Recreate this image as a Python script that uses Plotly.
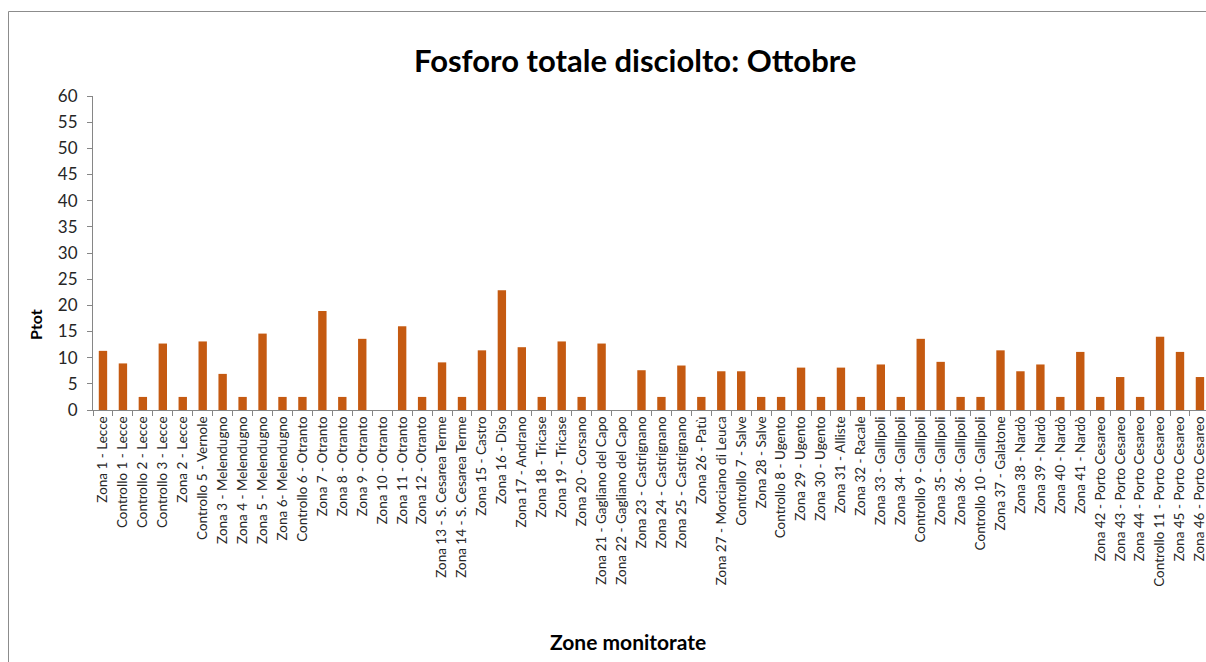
import plotly.graph_objects as go

# Monitoring zones along the Salento coast
zones = [
    "Zona 1 - Lecce", "Controllo 1 - Lecce", "Controllo 2 - Lecce", "Controllo 3 - Lecce",
    "Zona 2 - Lecce", "Controllo 5 - Vernole", "Zona 3 - Melendugno", "Zona 4 - Melendugno",
    "Zona 5 - Melendugno", "Zona 6- Melendugno", "Controllo 6 - Otranto", "Zona 7 - Otranto",
    "Zona 8 - Otranto", "Zona 9 - Otranto", "Zona 10 - Otranto", "Zona 11 - Otranto",
    "Zona 12 - Otranto", "Zona 13 - S. Cesarea Terme", "Zona 14 - S. Cesarea Terme",
    "Zona 15 - Castro", "Zona 16 - Diso", "Zona 17 - Andrano", "Zona 18 - Tricase",
    "Zona 19 - Tricase", "Zona 20 - Corsano", "Zona 21 - Gagliano del Capo",
    "Zona 22 - Gagliano del Capo", "Zona 23 - Castrignano", "Zona 24 - Castrignano",
    "Zona 25 - Castrignano", "Zona 26 - Patù", "Zona 27 - Morciano di Leuca",
    "Controllo 7 - Salve", "Zona 28 - Salve", "Controllo 8 - Ugento", "Zona 29 - Ugento",
    "Zona 30 - Ugento", "Zona 31 - Alliste", "Zona 32 - Racale", "Zona 33 - Gallipoli",
    "Zona 34 - Gallipoli", "Controllo 9 - Gallipoli", "Zona 35 - Gallipoli",
    "Zona 36 - Gallipoli", "Controllo 10 - Gallipoli", "Zona 37 - Galatone",
    "Zona 38 - Nardò", "Zona 39 - Nardò", "Zona 40 - Nardò", "Zona 41 - Nardò",
    "Zona 42 - Porto Cesareo", "Zona 43 - Porto Cesareo", "Zona 44 - Porto Cesareo",
    "Controllo 11 - Porto Cesareo", "Zona 45 - Porto Cesareo", "Zona 46 - Porto Cesareo",
]

# Total dissolved phosphorus (Ptot), October
ptot = [
    11.3, 8.9, 2.5, 12.7, 2.5, 13.1, 6.9, 2.5, 14.6, 2.5, 2.5, 18.9, 2.5, 13.6, 0, 16.0,
    2.5, 9.1, 2.5, 11.4, 22.9, 12.0, 2.5, 13.1, 2.5, 12.7, 0, 7.6, 2.5, 8.5, 2.5, 7.4,
    7.4, 2.5, 2.5, 8.1, 2.5, 8.1, 2.5, 8.7, 2.5, 13.6, 9.2, 2.5, 2.5, 11.4, 7.4, 8.7,
    2.5, 11.1, 2.5, 6.3, 2.5, 14.0, 11.1, 6.3,
]

y_ticks = list(range(0, 61, 5))

FONT = "Lato"
AXIS_GRAY = "#868686"
TEXT = "#262626"

fig = go.Figure()
fig.add_trace(go.Bar(
    x=zones, y=ptot,
    marker=dict(color="#C55A11", line=dict(width=0)),
    width=0.42,
))

# plot area: left 93px, top 96px, bottom 410px, runs to the right edge
W, H = 1206, 662
L, T, B = 93, 96, 410
plot_h = B - T
plot_w = W - L

def px_x(px):
    return (px - L) / plot_w

def px_y(py):
    return (B - py) / plot_h

fig.update_layout(
    width=W, height=H,
    margin=dict(l=L, r=0, t=T, b=H - B, pad=0),
    paper_bgcolor="white", plot_bgcolor="white",
    showlegend=False,
    font=dict(family=FONT, color=TEXT),
    xaxis=dict(
        type="category",
        range=[-0.5, -0.5 + plot_w / 19.945],
        showline=True, linecolor=AXIS_GRAY, linewidth=1,
        ticks="outside", tickson="boundaries", ticklen=5, tickcolor=AXIS_GRAY,
        tickangle=-90, tickfont=dict(family=FONT, size=13.5, color=TEXT),
        showgrid=False, zeroline=False,
    ),
    yaxis=dict(
        range=[0, 60], tickvals=y_ticks,
        showline=True, linecolor=AXIS_GRAY, linewidth=1,
        ticks="outside", ticklen=5, tickcolor=AXIS_GRAY,
        ticklabelstandoff=6,
        tickfont=dict(family=FONT, size=17, color=TEXT),
        showgrid=False, zeroline=False,
    ),
    shapes=[dict(
        type="rect", xref="paper", yref="paper",
        x0=px_x(8.5), x1=px_x(W + 20), y0=px_y(H + 20), y1=px_y(11.5),
        line=dict(color="#8c8c8c", width=1), fillcolor="rgba(0,0,0,0)", layer="below",
    )],
    annotations=[
        dict(text="<b>Fosforo totale disciolto: Ottobre</b>", xref="paper", yref="paper",
             x=px_x(635), y=px_y(60), xanchor="center", yanchor="middle",
             showarrow=False, font=dict(family=FONT, size=31, color="black")),
        dict(text="<b>Ptot</b>", xref="paper", yref="paper",
             x=px_x(35), y=px_y(325), xanchor="center", yanchor="middle", textangle=-90,
             showarrow=False, font=dict(family=FONT, size=16, color="black")),
        dict(text="<b>Zone monitorate</b>", xref="paper", yref="paper",
             x=px_x(628), y=px_y(641), xanchor="center", yanchor="middle",
             showarrow=False, font=dict(family=FONT, size=21, color="black")),
    ],
)

fig.write_html("out.html")
